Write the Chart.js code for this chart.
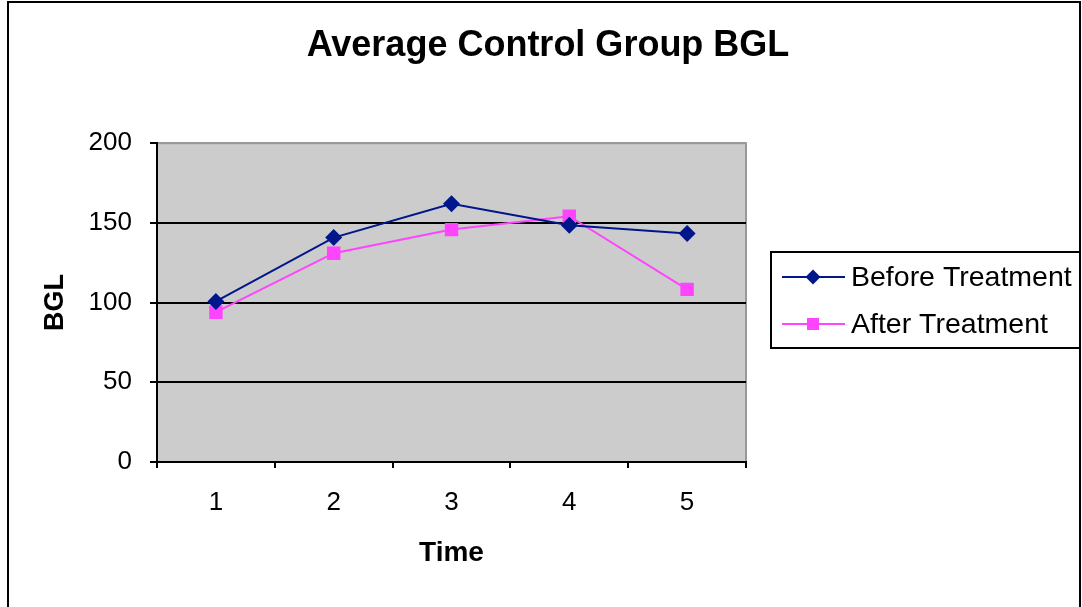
<!DOCTYPE html>
<html lang="en">
<head>
    <meta charset="UTF-8">
    <title>Average Control Group BGL</title>
    <script src="https://cdn.jsdelivr.net/npm/chart.js"></script>
    <style>
        body { margin: 0; background: #fff; }
        canvas { display: block; }
    </style>
</head>
<body>
    <canvas id="bglChart" width="1082" height="607"></canvas>

    <script>
        // values
        const timeLabels = ['1', '2', '3', '4', '5'];
        const beforeTreatment = [100.7, 140.8, 162, 148.6, 143.3];
        const afterTreatment = [94, 131, 145.8, 154.2, 108.3];
        const bglTicks = [0, 50, 100, 150, 200];

        const FONT = '"Liberation Sans", Arial, sans-serif';

        // grey plot area + outer frame
        const plotBackground = {
            id: 'plotBackground',
            beforeDraw(chart) {
                const { ctx, chartArea: a } = chart;
                ctx.save();
                ctx.fillStyle = '#fff';
                ctx.fillRect(0, 0, chart.width, chart.height);
                ctx.strokeStyle = '#000';
                ctx.lineWidth = 2;
                ctx.strokeRect(8, 2, 1072, 640);
                ctx.fillStyle = '#cccccc';
                ctx.fillRect(a.left, a.top, a.right - a.left, a.bottom - a.top);
                ctx.strokeStyle = '#999999';
                ctx.lineWidth = 2;
                ctx.strokeRect(a.left, a.top, a.right - a.left, a.bottom - a.top);
                ctx.restore();
            }
        };

        // Excel style legend: line with marker through it, boxed
        const boxLegend = {
            id: 'boxLegend',
            afterDraw(chart) {
                const ctx = chart.ctx;
                const box = { x: 771, y: 252, w: 309, h: 96 };
                ctx.save();
                ctx.strokeStyle = '#000';
                ctx.lineWidth = 2;
                ctx.strokeRect(box.x, box.y, box.w, box.h);
                ctx.font = '28.5px ' + FONT;
                ctx.textBaseline = 'middle';
                chart.data.datasets.forEach((ds, i) => {
                    let y = box.y + 25 + i * 47;
                    ctx.strokeStyle = ds.borderColor;
                    ctx.lineWidth = ds.borderWidth;
                    ctx.beginPath();
                    ctx.moveTo(box.x + 11, y);
                    ctx.lineTo(box.x + 74, y);
                    ctx.stroke();
                    ctx.fillStyle = ds.pointBackgroundColor;
                    Chart.helpers.drawPoint(ctx, {
                        pointStyle: ds.pointStyle,
                        radius: ds.pointRadius - 1,
                        rotation: 0,
                        borderWidth: 0
                    }, box.x + 42, y);
                    ctx.fillStyle = '#000';
                    ctx.fillText(ds.label, box.x + 80, y + 1);
                });
                ctx.restore();
            }
        };

        let ctx = document.getElementById('bglChart').getContext('2d');

        new Chart(ctx, {
            type: 'line',
            data: {
                labels: timeLabels,
                datasets: [{
                    label: 'Before Treatment',
                    data: beforeTreatment,
                    borderColor: '#00168a',
                    backgroundColor: '#00168a',
                    pointBackgroundColor: '#00168a',
                    pointBorderColor: '#00168a',
                    pointStyle: 'rectRot',
                    pointRadius: 8.5,
                    pointBorderWidth: 0,
                    borderWidth: 2,
                    tension: 0
                }, {
                    label: 'After Treatment',
                    data: afterTreatment,
                    borderColor: '#ff44ff',
                    backgroundColor: '#ff44ff',
                    pointBackgroundColor: '#ff44ff',
                    pointBorderColor: '#ff44ff',
                    pointStyle: 'rect',
                    pointRadius: 9.5,
                    pointBorderWidth: 0,
                    borderWidth: 2,
                    tension: 0
                }]
            },
            options: {
                responsive: false,
                animation: false,
                layout: { padding: { left: 14, right: 0, top: 0, bottom: 0 } },
                plugins: {
                    legend: { display: false },
                    tooltip: { enabled: false },
                    title: {
                        display: true,
                        text: 'Average Control Group BGL',
                        color: '#000',
                        font: { family: FONT, size: 36, weight: 'bold' },
                        padding: { top: 24, bottom: 76 }
                    }
                },
                scales: {
                    x: {
                        offset: true,
                        afterFit(scale) { scale.height = 145; },
                        grid: {
                            offset: true,
                            drawOnChartArea: false,
                            tickLength: 6,
                            tickColor: '#000',
                            lineWidth: 2
                        },
                        border: { color: '#000', width: 2 },
                        ticks: {
                            color: '#000',
                            padding: 19,
                            font: { family: FONT, size: 26 }
                        },
                        title: {
                            display: true,
                            text: 'Time',
                            color: '#000',
                            font: { family: FONT, size: 28, weight: 'bold' },
                            padding: { top: 0, bottom: 37 }
                        }
                    },
                    y: {
                        min: 0,
                        max: 200,
                        afterFit(scale) { scale.width = 143; },
                        afterBuildTicks(scale) {
                            scale.ticks = bglTicks.map(v => ({ value: v }));
                        },
                        grid: {
                            color: c => (c.tick && c.tick.value === 200) ? '#999999' : '#000',
                            lineWidth: 2,
                            tickColor: '#000',
                            tickLength: 7
                        },
                        border: { color: '#000', width: 2 },
                        ticks: {
                            color: '#000',
                            padding: 18,
                            font: { family: FONT, size: 26 }
                        },
                        title: {
                            display: true,
                            text: 'BGL',
                            color: '#000',
                            font: { family: FONT, size: 27, weight: 'bold' },
                            padding: { top: 25, bottom: 0 }
                        }
                    },
                    // empty right-hand strip that holds the legend box
                    legendSpace: {
                        type: 'linear',
                        position: 'right',
                        afterFit(scale) { scale.width = 336; },
                        grid: { display: false },
                        border: { display: false },
                        ticks: { display: false }
                    }
                }
            },
            plugins: [plotBackground, boxLegend]
        });
    </script>
</body>
</html>
